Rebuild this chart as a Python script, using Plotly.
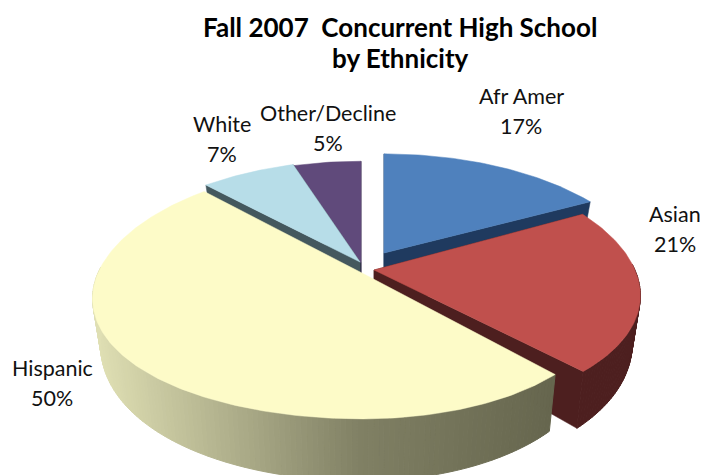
import math
import plotly.graph_objects as go

categories = ["Afr Amer", "Asian", "Hispanic", "White", "Other/Decline"]
values = [17, 21, 50, 7, 5]
title_lines = ["Fall 2007  Concurrent High School", "by Ethnicity"]

top_colors = ["#4f81bd", "#c0504d", "#fdfbc8", "#b7dde8", "#604a7b"]
cut_colors = ["#1f3a5f", "#4d1f1f", "#66664e", "#44585e", "#2b2140"]
# per-slice projection: tip x, tip y, x radius (right, left), y radius
geom = {
    "Afr Amer": (384, 253, 258, 258, 114),
    "Asian": (374, 270, 261, 261, 124),
    "Hispanic": (362, 273, 241, 264, 124),
    "White": (360, 262, 258, 258, 117),
    "Other/Decline": (361, 263, 258, 258, 117),
}
label_pos = {
    "Afr Amer": (521, 96), "Asian": (675, 214), "Hispanic": (52, 368),
    "White": (222, 124), "Other/Decline": (328, 113),
}
KX, KY = 0.2, 0.15


def project(name, deg, r=1.0, lower=False):
    tx, ty, rr, rl, ry = geom[name]
    a = math.radians(deg)
    u, v = r * math.sin(a), r * math.cos(a)
    rx = rr if u > 0 else rl
    sx = 0.97 if lower else 1.0
    x = tx + sx * rx * u / (1 + KX * v)
    y = ty - ry * v / (1 + KY * v)
    if lower:
        y += 43 - 19 * v
    return x, y


def poly(fig, pts, color, width=0.5):
    fig.add_trace(go.Scatter(
        x=[p[0] for p in pts] + [pts[0][0]], y=[p[1] for p in pts] + [pts[0][1]],
        mode="lines", fill="toself", fillcolor=color,
        line=dict(color=color, width=width), hoverinfo="skip", showlegend=False))


def hispanic_shade(x):
    stops = [(92, (224, 224, 180)), (360, (128, 128, 100)), (554, (102, 102, 78))]
    if x <= stops[0][0]:
        return "rgb(224,224,180)"
    for (a, ca), (b, cb) in zip(stops, stops[1:]):
        if x <= b:
            t = (x - a) / (b - a)
            c = [round(p + (q - p) * t) for p, q in zip(ca, cb)]
            return f"rgb({c[0]},{c[1]},{c[2]})"
    return "rgb(102,102,78)"


# slice angles follow from the values, clockwise from twelve o'clock
angles = {}
running = 0.0
total = sum(values)
for name, val in zip(categories, values):
    angles[name] = (running, running + 360.0 * val / total)
    running += 360.0 * val / total

fig = go.Figure()


def draw_slice(name):
    i = categories.index(name)
    a0, a1 = angles[name]
    n = max(8, int(a1 - a0))
    steps = [a0 + (a1 - a0) * k / n for k in range(n + 1)]
    # flat cut faces
    for edge in (a0, a1):
        poly(fig, [project(name, edge, 0), project(name, edge),
                   project(name, edge, 1, True), project(name, edge, 0, True)], cut_colors[i])
    # outer wall, only where it faces the viewer
    for s, e in zip(steps, steps[1:]):
        mid = (s + e) / 2
        if math.cos(math.radians(mid)) < 0.05:
            poly(fig, [project(name, s), project(name, e),
                       project(name, e, 1, True), project(name, s, 1, True)], cut_colors[i], 1)
    # top face
    poly(fig, [project(name, 0, 0)] + [project(name, t) for t in steps], top_colors[i])


for name in ["Other/Decline", "White", "Afr Amer", "Asian"]:
    draw_slice(name)

# Hispanic: wall then top, without its rear cut faces
i = categories.index("Hispanic")
a0, a1 = angles["Hispanic"]
n = 180
steps = [a0 + (a1 - a0) * k / n for k in range(n + 1)]
for s, e in zip(steps, steps[1:]):
    if math.cos(math.radians((s + e) / 2)) < 0.05:
        poly(fig, [project("Hispanic", s), project("Hispanic", e),
                   project("Hispanic", e, 1, True), project("Hispanic", s, 1, True)],
             hispanic_shade(project("Hispanic", (s + e) / 2)[0]), 1)
poly(fig, [project("Hispanic", 0, 0)] + [project("Hispanic", t) for t in steps], top_colors[i])

annotations = []
for name, val in zip(categories, values):
    x, y = label_pos[name]
    for k, line in enumerate([name, f"{val}%"]):
        annotations.append(dict(
            x=x, y=y + 30 * k, xref="x", yref="y", showarrow=False,
            text=line, font=dict(family="Lato", size=21.5, color="#111111")))
for k, line in enumerate(title_lines):
    annotations.append(dict(
        x=400, y=27 + 31 * k, xref="x", yref="y", showarrow=False,
        text=f"<b>{line}</b>", font=dict(family="Lato", size=26, color="#000000")))

fig.update_layout(
    width=703, height=475, margin=dict(l=0, r=0, t=0, b=0),
    paper_bgcolor="white", plot_bgcolor="white", showlegend=False,
    xaxis=dict(range=[0, 703], visible=False, fixedrange=True),
    yaxis=dict(range=[475, 0], visible=False, fixedrange=True),
    annotations=annotations)
fig.write_html("out.html", config={"displayModeBar": False},
               post_script="document.body.style.margin='0';document.body.style.overflow='hidden';")
